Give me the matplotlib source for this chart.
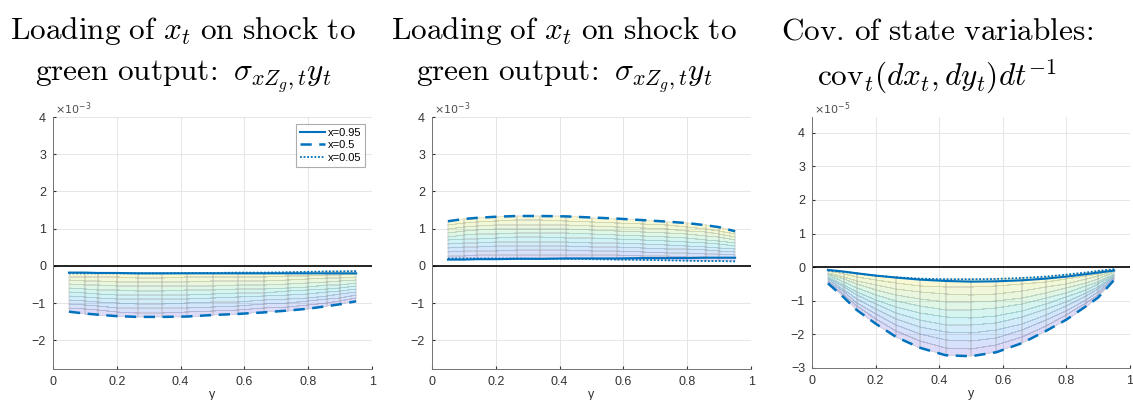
import numpy as np
import matplotlib.pyplot as plt
from matplotlib.colors import LinearSegmentedColormap

# grid of y points (matlab surface columns)
y = np.array([0.05, 0.1, 0.14, 0.2, 0.265, 0.34, 0.42, 0.5, 0.58, 0.66, 0.735, 0.8, 0.86, 0.9, 0.95])

# panel 1: loading of x_t on shock to green output (x 1e-3)
p1_x095 = np.array([-0.18, -0.18, -0.19, -0.19, -0.2, -0.2, -0.2, -0.2, -0.2, -0.2, -0.2, -0.2, -0.2, -0.2, -0.2])
p1_x05 = np.array([-1.23, -1.28, -1.31, -1.35, -1.37, -1.37, -1.36, -1.32, -1.29, -1.25, -1.2, -1.15, -1.08, -1.03, -0.95])
p1_x005 = np.array([-0.2, -0.2, -0.2, -0.2, -0.2, -0.2, -0.19, -0.19, -0.18, -0.18, -0.17, -0.16, -0.15, -0.15, -0.14])

# panel 2 (x 1e-3)
p2_x095 = np.array([0.17, 0.17, 0.18, 0.18, 0.19, 0.19, 0.2, 0.2, 0.2, 0.21, 0.21, 0.21, 0.22, 0.22, 0.22])
p2_x05 = np.array([1.2, 1.26, 1.29, 1.32, 1.34, 1.34, 1.33, 1.3, 1.27, 1.23, 1.19, 1.15, 1.09, 1.04, 0.93])
p2_x005 = np.array([0.2, 0.2, 0.2, 0.2, 0.2, 0.19, 0.19, 0.18, 0.17, 0.16, 0.15, 0.14, 0.13, 0.13, 0.12])

# panel 3: cov_t(dx, dy) (x 1e-5)
p3_x095 = np.array([-0.08, -0.13, -0.18, -0.25, -0.31, -0.37, -0.41, -0.43, -0.42, -0.39, -0.34, -0.28, -0.21, -0.16, -0.1])
p3_x05 = np.array([-0.48, -0.9, -1.27, -1.68, -2.08, -2.4, -2.62, -2.65, -2.53, -2.26, -1.9, -1.56, -1.17, -0.9, -0.38])
p3_x005 = np.array([-0.1, -0.14, -0.19, -0.25, -0.3, -0.34, -0.36, -0.36, -0.35, -0.32, -0.28, -0.22, -0.16, -0.11, -0.06])

titles = [
    [r'$\mathrm{Loading\ of\ }x_t\mathrm{\ on\ shock\ to}$', r'$\mathrm{green\ output}\!:\ \sigma_{xZ_g,t}y_t$'],
    [r'$\mathrm{Loading\ of\ }x_t\mathrm{\ on\ shock\ to}$', r'$\mathrm{green\ output}\!:\ \sigma_{xZ_g,t}y_t$'],
    [r'$\mathrm{Cov.}\!\mathrm{\ of\ state\ variables}\!:$', r'$\mathrm{cov}_t(dx_t,dy_t)dt^{-1}$'],
]
exps = ['-3', '-3', '-5']
ylims = [(-2.77, 4), (-2.77, 4), (-3, 4.47)]
yticks = [np.arange(-2, 5), np.arange(-2, 5), np.arange(-3, 5)]
data = [(p1_x095, p1_x05, p1_x005), (p2_x095, p2_x05, p2_x005), (p3_x095, p3_x05, p3_x005)]

blue = (0, 0.447, 0.741)
parula = LinearSegmentedColormap.from_list('parula', [
    (0.95, 0.88, 0.15), (0.6, 0.85, 0.35), (0.1, 0.8, 0.8), (0.15, 0.55, 0.95), (0.4, 0.25, 0.85)])

fig = plt.figure(figsize=(11.33, 4), dpi=100)
plt.rcParams['font.family'] = ['Liberation Sans', 'DejaVu Sans']

positions = [[0.0468, 0.0775, 0.2816, 0.63], [0.3813, 0.0775, 0.2816, 0.63], [0.7167, 0.08, 0.2807, 0.6275]]
title_x = [183, 564, 937]

for i in range(3):
    ax = fig.add_axes(positions[i])
    a, b, c = data[i]
    upper = np.maximum.reduce([a, b, c])
    lower = np.minimum.reduce([a, b, c])
    # shaded surface between the envelopes
    t = np.linspace(0, 1, 11)
    Y, T = np.meshgrid(y, t)
    Z = upper[None, :] + T * (lower - upper)[None, :]
    tc = 0.5 * (t[1:] + t[:-1])
    C = np.repeat(tc[:, None], len(y) - 1, axis=1)
    ax.pcolormesh(Y, Z, C, cmap=parula, vmin=0, vmax=1, alpha=0.2,
                  edgecolors=(0.65, 0.65, 0.65), linewidth=0.15, shading='flat', zorder=1)
    ax.axhline(0, color='black', lw=1.2, zorder=2)
    ax.plot(y, a, color=blue, lw=1.5, ls='-', label='x=0.95', zorder=3)
    ax.plot(y, b, color=blue, lw=1.8, ls=(0, (4.5, 3)), label='x=0.5', zorder=3)
    ax.plot(y, c, color=blue, lw=1.3, ls=(0, (1, 1)), label='x=0.05', zorder=3)

    ax.set_xlim(0, 1)
    ax.set_ylim(*ylims[i])
    ax.set_xticks([0, 0.2, 0.4, 0.6, 0.8, 1])
    ax.set_xticklabels(['0', '0.2', '0.4', '0.6', '0.8', '1'])
    ax.set_yticks(yticks[i])
    ax.grid(True, color=(0.9, 0.9, 0.9), lw=0.7)
    ax.set_axisbelow(True)
    for s in ['top', 'right']:
        ax.spines[s].set_visible(False)
    for s in ['left', 'bottom']:
        ax.spines[s].set_color((0.45, 0.45, 0.45))
        ax.spines[s].set_linewidth(0.7)
    ax.tick_params(direction='in', length=2, labelsize=9, colors=(0.2, 0.2, 0.2), pad=5)
    ax.set_xlabel('y', fontsize=9, color=(0.2, 0.2, 0.2), labelpad=1)
    ax.text(0.005, 1.0, r'$\times10^{' + exps[i] + '}$', transform=ax.transAxes,
            ha='left', va='bottom', fontsize=8, color=(0.3, 0.3, 0.3))

    if i == 0:
        leg = ax.legend(loc='upper right', fontsize=8, fancybox=False, handlelength=2.2,
                        borderaxespad=0.6, labelspacing=0.25, borderpad=0.35, handletextpad=0.3)
        leg.get_frame().set_edgecolor((0.6, 0.6, 0.6))
        leg.get_frame().set_linewidth(0.8)

    fig.text(title_x[i] / 1133, 1 - 31 / 400, titles[i][0], ha='center', va='center',
             fontsize=22.5, math_fontfamily='cm')
    fig.text(title_x[i] / 1133, 1 - 77 / 400, titles[i][1], ha='center', va='center',
             fontsize=22.5, math_fontfamily='cm')

fig.savefig('out.png', dpi=100)
